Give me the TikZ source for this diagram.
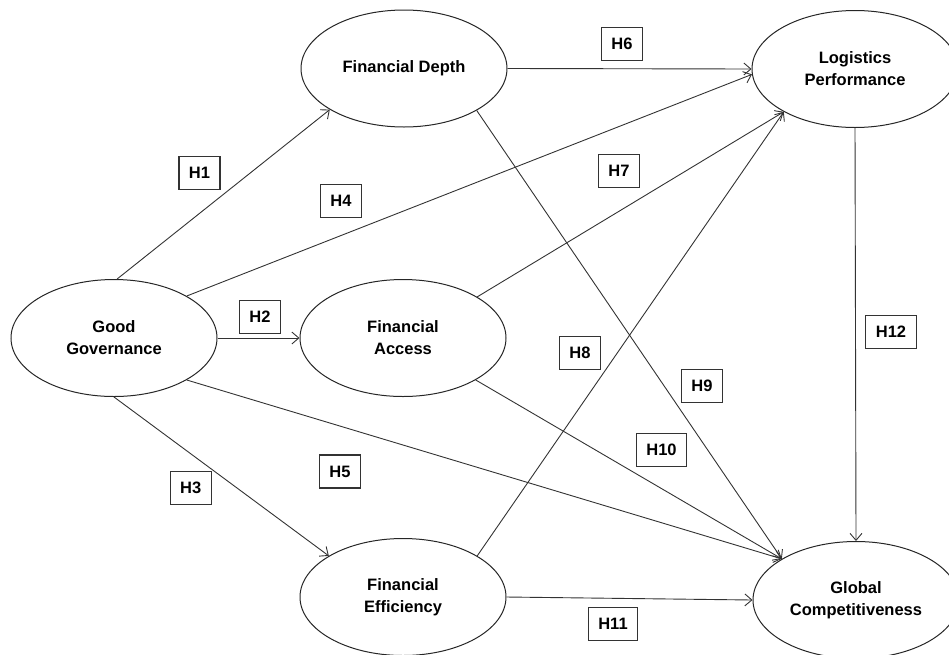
\documentclass[tikz,border=0pt]{standalone}
\usepackage{fontspec}
\setmainfont{Liberation Sans}
\usetikzlibrary{shapes.geometric,arrows.meta}
\begin{document}
\begin{tikzpicture}[x=1pt,y=-1pt,
  construct/.style={draw=black!85,line width=1pt,ellipse,minimum width=206pt,minimum height=117pt,inner sep=0pt,align=center,font=\fontsize{16.5}{22}\selectfont\bfseries},
  hyp/.style={draw=black!80,line width=1.2pt,fill=white,inner xsep=10pt,inner ysep=0pt,minimum height=33pt,font=\fontsize{16.5}{20}\selectfont\bfseries},
  link/.style={draw=black!80,line width=0.9pt,-{Straight Barb[length=7pt,width=12pt,line width=0.9pt]}}]
\useasboundingbox (0,0) rectangle (949,654);
\node[construct] (fd) at (404,68.5) {Financial Depth};
\node[construct] (lp) at (855,69) {Logistics\\Performance};
\node[construct] (gg) at (114,338) {Good\\Governance};
\node[construct] (fa) at (403,338) {Financial\\Access};
\node[construct] (fe) at (403,597) {Financial\\Efficiency};
\node[construct] (gc) at (856,600) {Global\\Competitiveness};
\draw[link] (gg.87) -- (fd.209);
\draw[link] (gg.east) -- (fa.west);
\draw[link] (gg.south) -- (fe.151);
\draw[link] (gg.30.5) -- (lp.183);
\draw[link] (gg.330.7) -- (gc.151);
\draw[link] (fd.east) -- (lp.west);
\draw[link] (fa.29.7) -- (lp.211);
\draw[link] (fe.29.6) -- (lp.211);
\draw[link] (fd.330.7) -- (gc.151);
\draw[link] (fa.330) -- (gc.151);
\draw[link] (fe.east) -- (gc.west);
\draw[link] (lp.south) -- (gc.north);
\node[hyp] (h1) at (199.5,173) {H1};
\node[hyp] (h2) at (260,317) {H2};
\node[hyp] (h3) at (190.7,488) {H3};
\node[hyp] (h4) at (341,201) {H4};
\node[hyp] (h5) at (340,471.5) {H5};
\node[hyp] (h6) at (622,44) {H6};
\node[hyp] (h7) at (619,171) {H7};
\node[hyp] (h8) at (580,353) {H8};
\node[hyp] (h9) at (702,386) {H9};
\node[hyp] (h10) at (661.5,450) {H10};
\node[hyp] (h11) at (613,624) {H11};
\node[hyp] (h12) at (891,332) {H12};
\end{tikzpicture}
\end{document}
